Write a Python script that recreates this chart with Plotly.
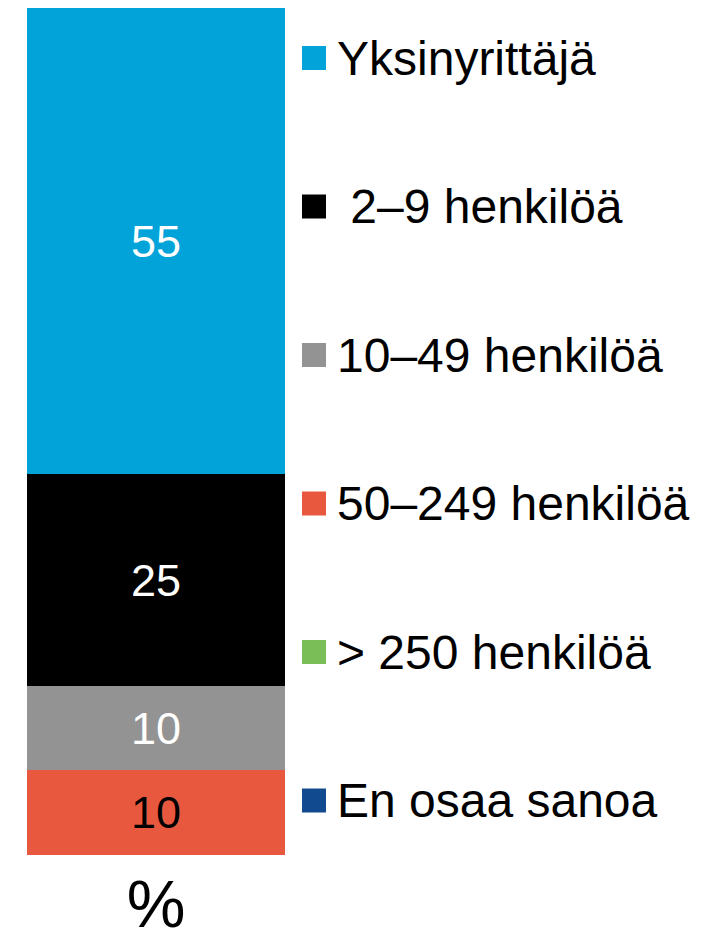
import plotly.graph_objects as go

# Data
category = ["%"]
series_names = ["Yksinyrittäjä", " 2–9 henkilöä", "10–49 henkilöä", "50–249 henkilöä",
                "> 250 henkilöä", "En osaa sanoa"]
series_values = [55, 25, 10, 10, 0, 0]
series_colors = ["#02A3D9", "#000000", "#939393", "#E8583F", "#79BE57", "#124A8F"]
label_colors = ["#FFFFFF", "#FFFFFF", "#FFFFFF", "#000000", "#FFFFFF", "#FFFFFF"]

OFF = 8  # page body margin
W, H = 708 - OFF, 933 - OFF
TOP, BOTTOM = 8 - OFF, 855 - OFF
FONT = "Liberation Sans, Arial, sans-serif"

fig = go.Figure()
# stack bottom-to-top: reverse order of legend list
for name, val, col, lcol in reversed(list(zip(series_names, series_values, series_colors, label_colors))):
    fig.add_trace(go.Bar(
        x=category, y=[val], name=name.strip(),
        marker=dict(color=col, line=dict(width=0)),
        text=[str(val) if val > 0 else ""],
        textposition="inside", insidetextanchor="middle",
        textfont=dict(size=45, color=lcol, family=FONT),
        constraintext="none",
        showlegend=False, hoverinfo="skip",
    ))

def ypaper(py):
    return (BOTTOM - (py - OFF)) / (BOTTOM - TOP)

def xpaper(px):
    return (px - OFF) / W

shapes, annotations = [], []
for i, (name, col) in enumerate(zip(series_names, series_colors)):
    cy = 58 + i * 148.5
    shapes.append(dict(type="rect", xref="paper", yref="paper",
                       x0=xpaper(302), x1=xpaper(326), y0=ypaper(cy + 12), y1=ypaper(cy - 12),
                       fillcolor=col, line=dict(width=0)))
    annotations.append(dict(xref="paper", yref="paper", x=xpaper(335), y=ypaper(cy),
                            xanchor="left", yanchor="middle", showarrow=False,
                            text=name.replace(" ", "\u00a0") if name.startswith(" ") else name,
                            font=dict(size=48, color="#000000", family=FONT)))

fig.update_layout(
    width=W, height=H,
    margin=dict(l=0, r=0, t=TOP, b=H - BOTTOM, pad=0, autoexpand=False),
    barmode="stack", bargap=0,
    plot_bgcolor="white", paper_bgcolor="white",
    showlegend=False,
    xaxis=dict(domain=[(27 - OFF) / W, (285 - OFF) / W], showgrid=False, zeroline=False, showline=False,
               ticks="", tickfont=dict(size=66, color="#000000", family=FONT),
               ticklabelstandoff=5, automargin=False, fixedrange=True),
    yaxis=dict(range=[0, 100], visible=False, automargin=False, fixedrange=True),
    shapes=shapes, annotations=annotations,
)

fig.write_html("out.html")
